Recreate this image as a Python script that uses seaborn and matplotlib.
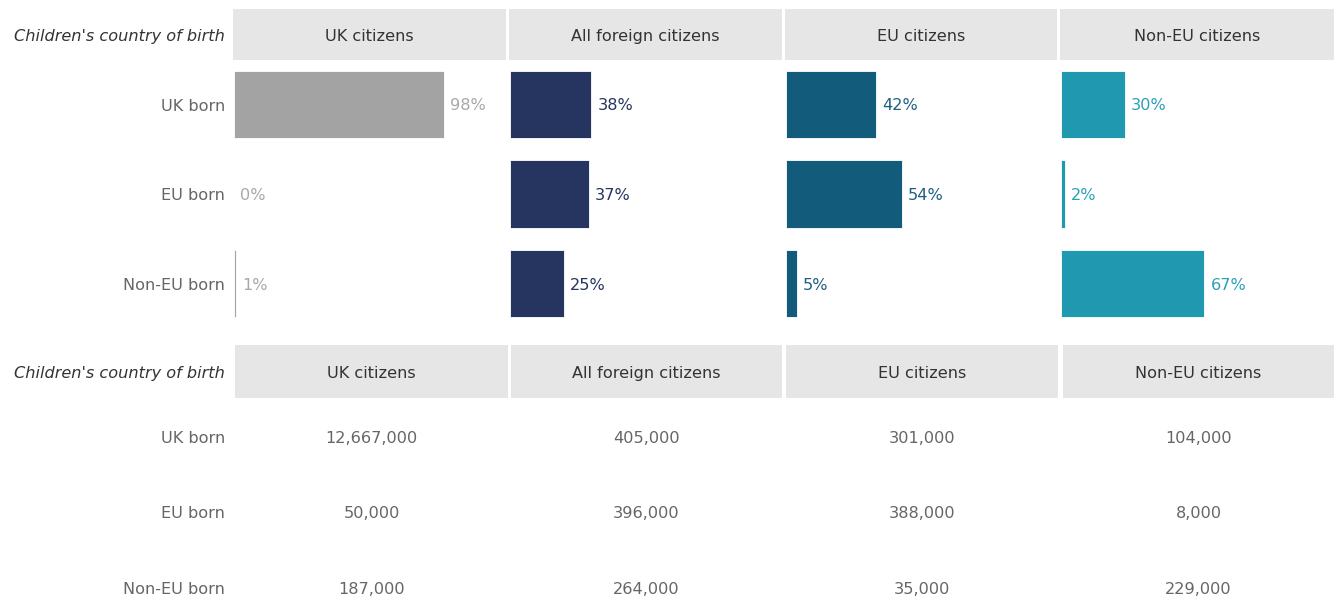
import matplotlib
matplotlib.use("Agg")
import matplotlib.pyplot as plt
import seaborn as sns
import pandas as pd
from matplotlib.patches import Rectangle

# ---- data ----
birth = ["UK born", "EU born", "Non-EU born"]
groups = ["UK citizens", "All foreign citizens", "EU citizens", "Non-EU citizens"]
pct_uk = [98, 0, 1]
pct_foreign = [38, 37, 25]
pct_eu = [42, 54, 5]
pct_noneu = [30, 2, 67]
cnt_uk = ["12,667,000", "50,000", "187,000"]
cnt_foreign = ["405,000", "396,000", "264,000"]
cnt_eu = ["301,000", "388,000", "35,000"]
cnt_noneu = ["104,000", "8,000", "229,000"]

pcts = [pct_uk, pct_foreign, pct_eu, pct_noneu]
cnts = [cnt_uk, cnt_foreign, cnt_eu, cnt_noneu]
bar_colors = ["#a3a3a3", "#25355f", "#135b7b", "#1f98b0"]
label_colors = ["#a8a8a8", "#25355f", "#1d5f80", "#2aa0b8"]

sns.set_style("white")
plt.rcParams["font.family"] = ["DejaVu Sans"]

W, H = 1338, 601
fig = plt.figure(figsize=(W / 100, H / 100), dpi=100)

def fx(px):
    return px / W

def fy(py):
    return 1 - py / H

FS = 11.6
VA = "center_baseline"
label_c = "#666666"
head_c = "#333333"
head_bg = "#e6e6e6"

# top panel columns (pixel x ranges)
top_cols = [(234, 507), (510, 783), (786, 1059), (1061, 1334)]
top_head = [(233, 506), (509, 782), (785, 1057), (1060, 1334)]
ax_top, ax_bot = 59.75, 328.25

for i, (x0, x1) in enumerate(top_cols):
    ax = fig.add_axes([fx(x0), fy(ax_bot), fx(x1 - x0), (ax_bot - ax_top) / H])
    df = pd.DataFrame({"birth": birth, "pct": pcts[i]})
    sns.barplot(data=df, x="pct", y="birth", orient="h", color=bar_colors[i],
                saturation=1, width=0.75, ax=ax, edgecolor="white", linewidth=0.6)
    ax.set_xlim(0, 127.5)
    ax.set_ylim(2.5, -0.5)
    for j, v in enumerate(pcts[i]):
        ax.text(v + 2.8, j, f"{v}%", va=VA, ha="left", fontsize=FS,
                color=label_colors[i])
    ax.axis("off")
    hx0, hx1 = top_head[i]
    fig.patches.append(Rectangle((fx(hx0), fy(60)), fx(hx1 - hx0), (60 - 9) / H,
                                 transform=fig.transFigure, facecolor=head_bg,
                                 edgecolor="none", zorder=0))
    fig.text(fx((hx0 + hx1) / 2), fy(35), groups[i], ha="center", va=VA,
             fontsize=FS, color=head_c)

fig.text(fx(225), fy(35), "Children's country of birth", ha="right", va=VA,
         fontsize=FS, color=head_c, style="italic")
for j, lab in enumerate(birth):
    fig.text(fx(225), fy([104.5, 194.5, 283.5][j]), lab, ha="right", va=VA,
             fontsize=FS, color=label_c)

# bottom table
bot_head = [(235, 508), (511, 782), (786, 1058), (1063, 1334)]
rows_y = [437, 512, 588]
for i, (hx0, hx1) in enumerate(bot_head):
    fig.patches.append(Rectangle((fx(hx0), fy(398)), fx(hx1 - hx0), (398 - 345) / H,
                                 transform=fig.transFigure, facecolor=head_bg,
                                 edgecolor="none", zorder=0))
    fig.text(fx((hx0 + hx1) / 2), fy(372), groups[i], ha="center", va=VA,
             fontsize=FS, color=head_c)
    for j, c in enumerate(cnts[i]):
        fig.text(fx((hx0 + hx1) / 2), fy(rows_y[j]), c, ha="center", va=VA,
                 fontsize=FS, color=label_c)

fig.text(fx(225), fy(372), "Children's country of birth", ha="right", va=VA,
         fontsize=FS, color=head_c, style="italic")
for j, lab in enumerate(birth):
    fig.text(fx(225), fy(rows_y[j]), lab, ha="right", va=VA,
             fontsize=FS, color=label_c)

fig.savefig("out.png", dpi=100, facecolor="white")
